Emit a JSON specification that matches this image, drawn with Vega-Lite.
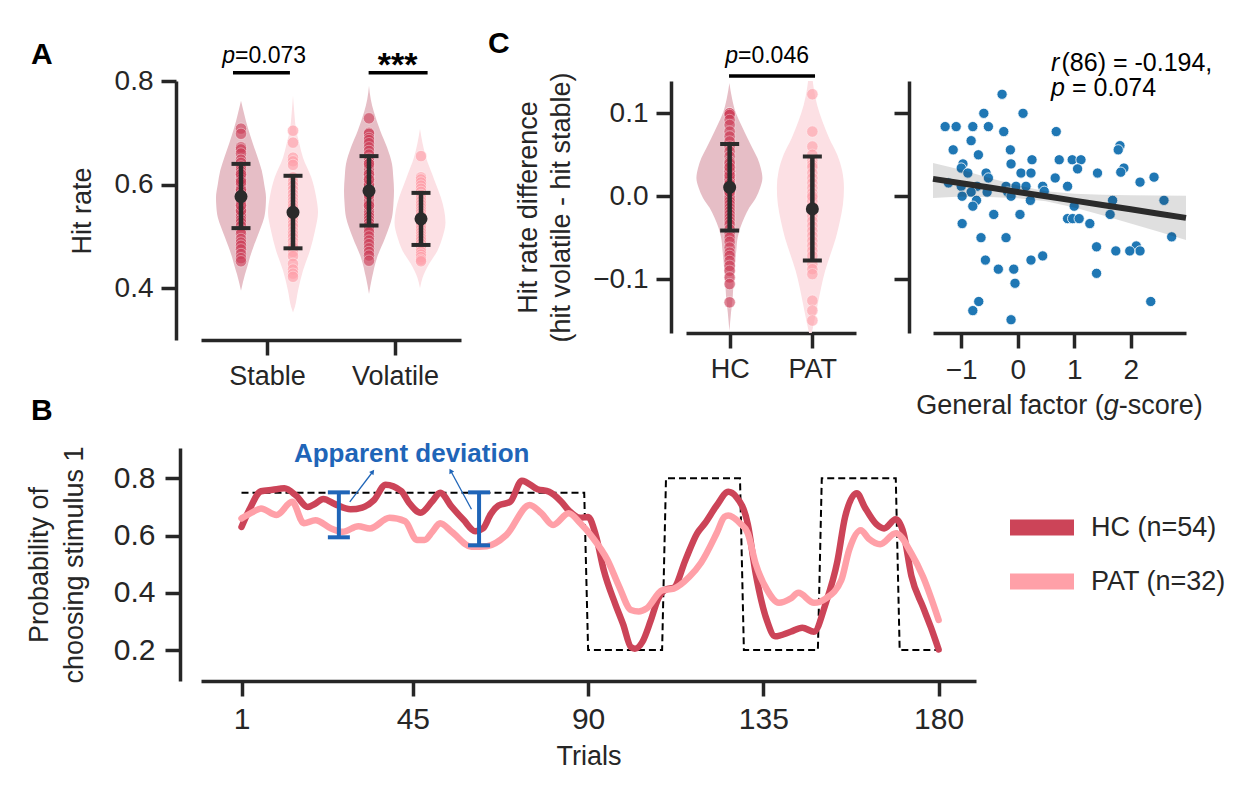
{
  "$schema": "https://vega.github.io/schema/vega-lite/v6.json",
  "background": "white",
  "padding": {"left": 25, "top": 28, "right": 0, "bottom": 0},
  "config": {
    "font": "Liberation Sans",
    "view": {"stroke": null},
    "axis": {
      "domainColor": "#262626", "domainWidth": 3.5,
      "tickColor": "#262626", "tickWidth": 3.5, "tickSize": 15,
      "labelColor": "#262626", "labelFontSize": 28, "labelPadding": 8,
      "labelFlush": false, "labelOverlap": false, "labelFont": "Liberation Sans",
      "titleColor": "#262626", "titleFontSize": 27, "titleFontWeight": "normal", "titleFont": "Liberation Sans",
      "grid": false
    },
    "text": {"font": "Liberation Sans"}
  },
  "resolve": {"scale": {"color": "independent"}, "legend": {"color": "independent"}},
  "datasets": {
    "violA": [
      {"group":"HC","cond":"Stable","v":0.395,"d":0},{"group":"HC","cond":"Stable","v":0.41,"d":0.07},{"group":"HC","cond":"Stable","v":0.427,"d":0.16},{"group":"HC","cond":"Stable","v":0.443,"d":0.26},{"group":"HC","cond":"Stable","v":0.46,"d":0.36},{"group":"HC","cond":"Stable","v":0.48,"d":0.5},{"group":"HC","cond":"Stable","v":0.498,"d":0.64},{"group":"HC","cond":"Stable","v":0.518,"d":0.8},{"group":"HC","cond":"Stable","v":0.537,"d":0.93},{"group":"HC","cond":"Stable","v":0.56,"d":0.99},{"group":"HC","cond":"Stable","v":0.575,"d":1.0},{"group":"HC","cond":"Stable","v":0.6,"d":0.93},{"group":"HC","cond":"Stable","v":0.627,"d":0.83},{"group":"HC","cond":"Stable","v":0.652,"d":0.67},{"group":"HC","cond":"Stable","v":0.68,"d":0.47},{"group":"HC","cond":"Stable","v":0.71,"d":0.27},{"group":"HC","cond":"Stable","v":0.736,"d":0.13},{"group":"HC","cond":"Stable","v":0.762,"d":0},
      {"group":"PAT","cond":"Stable","v":0.353,"d":0},{"group":"PAT","cond":"Stable","v":0.363,"d":0.07},{"group":"PAT","cond":"Stable","v":0.395,"d":0.2},{"group":"PAT","cond":"Stable","v":0.434,"d":0.4},{"group":"PAT","cond":"Stable","v":0.473,"d":0.68},{"group":"PAT","cond":"Stable","v":0.511,"d":0.88},{"group":"PAT","cond":"Stable","v":0.547,"d":1.0},{"group":"PAT","cond":"Stable","v":0.575,"d":0.93},{"group":"PAT","cond":"Stable","v":0.614,"d":0.73},{"group":"PAT","cond":"Stable","v":0.652,"d":0.4},{"group":"PAT","cond":"Stable","v":0.68,"d":0.25},{"group":"PAT","cond":"Stable","v":0.704,"d":0.13},{"group":"PAT","cond":"Stable","v":0.74,"d":0.05},{"group":"PAT","cond":"Stable","v":0.772,"d":0},
      {"group":"HC","cond":"Volatile","v":0.389,"d":0},{"group":"HC","cond":"Volatile","v":0.42,"d":0.12},{"group":"HC","cond":"Volatile","v":0.459,"d":0.32},{"group":"HC","cond":"Volatile","v":0.498,"d":0.65},{"group":"HC","cond":"Volatile","v":0.537,"d":0.92},{"group":"HC","cond":"Volatile","v":0.565,"d":0.98},{"group":"HC","cond":"Volatile","v":0.588,"d":1.0},{"group":"HC","cond":"Volatile","v":0.615,"d":0.97},{"group":"HC","cond":"Volatile","v":0.64,"d":0.92},{"group":"HC","cond":"Volatile","v":0.672,"d":0.72},{"group":"HC","cond":"Volatile","v":0.704,"d":0.45},{"group":"HC","cond":"Volatile","v":0.741,"d":0.19},{"group":"HC","cond":"Volatile","v":0.765,"d":0.07},{"group":"HC","cond":"Volatile","v":0.791,"d":0},
      {"group":"PAT","cond":"Volatile","v":0.4,"d":0},{"group":"PAT","cond":"Volatile","v":0.42,"d":0.1},{"group":"PAT","cond":"Volatile","v":0.447,"d":0.36},{"group":"PAT","cond":"Volatile","v":0.472,"d":0.68},{"group":"PAT","cond":"Volatile","v":0.498,"d":0.88},{"group":"PAT","cond":"Volatile","v":0.527,"d":1.0},{"group":"PAT","cond":"Volatile","v":0.55,"d":0.95},{"group":"PAT","cond":"Volatile","v":0.575,"d":0.82},{"group":"PAT","cond":"Volatile","v":0.6,"d":0.63},{"group":"PAT","cond":"Volatile","v":0.62,"d":0.48},{"group":"PAT","cond":"Volatile","v":0.652,"d":0.24},{"group":"PAT","cond":"Volatile","v":0.68,"d":0.1},{"group":"PAT","cond":"Volatile","v":0.708,"d":0}
    ],
    "violC": [
      {"group":"HC","v":-0.163,"d":0},{"group":"HC","v":-0.14,"d":0.05},{"group":"HC","v":-0.122,"d":0.1},{"group":"HC","v":-0.1,"d":0.13},{"group":"HC","v":-0.082,"d":0.17},{"group":"HC","v":-0.065,"d":0.21},{"group":"HC","v":-0.05,"d":0.25},{"group":"HC","v":-0.038,"d":0.33},{"group":"HC","v":-0.026,"d":0.45},{"group":"HC","v":-0.014,"d":0.6},{"group":"HC","v":-0.002,"d":0.8},{"group":"HC","v":0.01,"d":0.93},{"group":"HC","v":0.022,"d":1.0},{"group":"HC","v":0.034,"d":0.95},{"group":"HC","v":0.046,"d":0.85},{"group":"HC","v":0.058,"d":0.7},{"group":"HC","v":0.07,"d":0.55},{"group":"HC","v":0.085,"d":0.37},{"group":"HC","v":0.1,"d":0.2},{"group":"HC","v":0.118,"d":0.08},{"group":"HC","v":0.1365,"d":0},
      {"group":"PAT","v":-0.165,"d":0.04},{"group":"PAT","v":-0.15,"d":0.12},{"group":"PAT","v":-0.13,"d":0.22},{"group":"PAT","v":-0.11,"d":0.32},{"group":"PAT","v":-0.09,"d":0.44},{"group":"PAT","v":-0.07,"d":0.6},{"group":"PAT","v":-0.05,"d":0.76},{"group":"PAT","v":-0.03,"d":0.88},{"group":"PAT","v":-0.01,"d":0.97},{"group":"PAT","v":0.01,"d":1.0},{"group":"PAT","v":0.03,"d":0.95},{"group":"PAT","v":0.05,"d":0.8},{"group":"PAT","v":0.07,"d":0.56},{"group":"PAT","v":0.09,"d":0.36},{"group":"PAT","v":0.11,"d":0.2},{"group":"PAT","v":0.13,"d":0.1},{"group":"PAT","v":0.139,"d":0.07}
    ],
    "participants": [
      {"group":"HC","Stable":0.708,"Volatile":0.728,"diff":0.1},{"group":"HC","Stable":0.698,"Volatile":0.7,"diff":0.1},{"group":"HC","Stable":0.672,"Volatile":0.698,"diff":0.098},{"group":"HC","Stable":0.668,"Volatile":0.69,"diff":0.092},{"group":"HC","Stable":0.66,"Volatile":0.686,"diff":0.086},{"group":"HC","Stable":0.648,"Volatile":0.68,"diff":0.078},{"group":"HC","Stable":0.642,"Volatile":0.672,"diff":0.072},{"group":"HC","Stable":0.635,"Volatile":0.665,"diff":0.066},{"group":"HC","Stable":0.63,"Volatile":0.658,"diff":0.06},{"group":"HC","Stable":0.625,"Volatile":0.65,"diff":0.054},
      {"group":"HC","Stable":0.62,"Volatile":0.645,"diff":0.048},{"group":"HC","Stable":0.615,"Volatile":0.64,"diff":0.042},{"group":"HC","Stable":0.61,"Volatile":0.635,"diff":0.038},{"group":"HC","Stable":0.605,"Volatile":0.63,"diff":0.034},{"group":"HC","Stable":0.6,"Volatile":0.625,"diff":0.03},{"group":"HC","Stable":0.597,"Volatile":0.62,"diff":0.026},{"group":"HC","Stable":0.593,"Volatile":0.615,"diff":0.022},{"group":"HC","Stable":0.59,"Volatile":0.61,"diff":0.018},{"group":"HC","Stable":0.586,"Volatile":0.606,"diff":0.015},{"group":"HC","Stable":0.583,"Volatile":0.602,"diff":0.012},
      {"group":"HC","Stable":0.58,"Volatile":0.598,"diff":0.009},{"group":"HC","Stable":0.576,"Volatile":0.595,"diff":0.006},{"group":"HC","Stable":0.572,"Volatile":0.59,"diff":0.003},{"group":"HC","Stable":0.568,"Volatile":0.586,"diff":0.0},{"group":"HC","Stable":0.565,"Volatile":0.582,"diff":-0.003},{"group":"HC","Stable":0.56,"Volatile":0.578,"diff":-0.006},{"group":"HC","Stable":0.556,"Volatile":0.574,"diff":-0.01},{"group":"HC","Stable":0.552,"Volatile":0.57,"diff":-0.014},{"group":"HC","Stable":0.548,"Volatile":0.566,"diff":-0.018},{"group":"HC","Stable":0.543,"Volatile":0.562,"diff":-0.022},
      {"group":"HC","Stable":0.538,"Volatile":0.558,"diff":-0.026},{"group":"HC","Stable":0.532,"Volatile":0.553,"diff":-0.03},{"group":"HC","Stable":0.527,"Volatile":0.548,"diff":-0.034},{"group":"HC","Stable":0.52,"Volatile":0.543,"diff":-0.04},{"group":"HC","Stable":0.512,"Volatile":0.538,"diff":-0.045},{"group":"HC","Stable":0.505,"Volatile":0.532,"diff":-0.05},{"group":"HC","Stable":0.495,"Volatile":0.526,"diff":-0.055},{"group":"HC","Stable":0.488,"Volatile":0.52,"diff":-0.062},{"group":"HC","Stable":0.482,"Volatile":0.514,"diff":-0.068},{"group":"HC","Stable":0.475,"Volatile":0.508,"diff":-0.072},
      {"group":"HC","Stable":0.466,"Volatile":0.5,"diff":-0.078},{"group":"HC","Stable":0.458,"Volatile":0.492,"diff":-0.084},{"group":"HC","Stable":0.452,"Volatile":0.485,"diff":-0.09},{"group":"HC","Stable":0.586,"Volatile":0.477,"diff":-0.098},{"group":"HC","Stable":0.6,"Volatile":0.47,"diff":-0.106},{"group":"HC","Stable":0.61,"Volatile":0.463,"diff":-0.128},{"group":"HC","Stable":0.57,"Volatile":0.453,"diff":0.02},{"group":"HC","Stable":0.55,"Volatile":0.6,"diff":0.03},{"group":"HC","Stable":0.59,"Volatile":0.62,"diff":0.01},{"group":"HC","Stable":0.62,"Volatile":0.58,"diff":0.04},
      {"group":"HC","Stable":0.56,"Volatile":0.64,"diff":0.025},{"group":"HC","Stable":0.58,"Volatile":0.56,"diff":0.005},{"group":"HC","Stable":0.605,"Volatile":0.61,"diff":0.015},{"group":"HC","Stable":0.575,"Volatile":0.59,"diff":0.035},
      {"group":"PAT","Stable":0.704,"Volatile":0.655,"diff":0.123},{"group":"PAT","Stable":0.681,"Volatile":0.614,"diff":0.078},{"group":"PAT","Stable":0.652,"Volatile":0.61,"diff":0.06},{"group":"PAT","Stable":0.645,"Volatile":0.604,"diff":0.05},{"group":"PAT","Stable":0.638,"Volatile":0.598,"diff":0.043},{"group":"PAT","Stable":0.614,"Volatile":0.592,"diff":0.038},{"group":"PAT","Stable":0.605,"Volatile":0.586,"diff":0.035},{"group":"PAT","Stable":0.598,"Volatile":0.58,"diff":0.028},{"group":"PAT","Stable":0.59,"Volatile":0.574,"diff":0.022},{"group":"PAT","Stable":0.582,"Volatile":0.568,"diff":0.016},
      {"group":"PAT","Stable":0.575,"Volatile":0.562,"diff":0.01},{"group":"PAT","Stable":0.568,"Volatile":0.556,"diff":0.004},{"group":"PAT","Stable":0.562,"Volatile":0.55,"diff":-0.002},{"group":"PAT","Stable":0.556,"Volatile":0.545,"diff":-0.006},{"group":"PAT","Stable":0.548,"Volatile":0.54,"diff":-0.012},{"group":"PAT","Stable":0.542,"Volatile":0.535,"diff":-0.018},{"group":"PAT","Stable":0.537,"Volatile":0.53,"diff":-0.024},{"group":"PAT","Stable":0.53,"Volatile":0.525,"diff":-0.03},{"group":"PAT","Stable":0.524,"Volatile":0.52,"diff":-0.036},{"group":"PAT","Stable":0.518,"Volatile":0.514,"diff":-0.042},
      {"group":"PAT","Stable":0.51,"Volatile":0.508,"diff":-0.048},{"group":"PAT","Stable":0.504,"Volatile":0.502,"diff":-0.054},{"group":"PAT","Stable":0.498,"Volatile":0.497,"diff":-0.06},{"group":"PAT","Stable":0.49,"Volatile":0.492,"diff":-0.066},{"group":"PAT","Stable":0.483,"Volatile":0.486,"diff":-0.072},{"group":"PAT","Stable":0.479,"Volatile":0.48,"diff":-0.082},{"group":"PAT","Stable":0.47,"Volatile":0.475,"diff":-0.088},{"group":"PAT","Stable":0.462,"Volatile":0.47,"diff":-0.094},{"group":"PAT","Stable":0.447,"Volatile":0.465,"diff":-0.126},{"group":"PAT","Stable":0.436,"Volatile":0.46,"diff":-0.138},
      {"group":"PAT","Stable":0.428,"Volatile":0.455,"diff":-0.15},{"group":"PAT","Stable":0.422,"Volatile":0.452,"diff":0.0}
    ],
    "summA": [
      {"group":"HC","cond":"Stable","mean":0.577,"lo":0.516,"hi":0.64},
      {"group":"PAT","cond":"Stable","mean":0.5465,"lo":0.477,"hi":0.617},
      {"group":"HC","cond":"Volatile","mean":0.588,"lo":0.521,"hi":0.655},
      {"group":"PAT","cond":"Volatile","mean":0.534,"lo":0.4835,"hi":0.584}
    ],
    "summC": [
      {"group":"HC","mean":0.0108,"lo":-0.0414,"hi":0.063},
      {"group":"PAT","mean":-0.0153,"lo":-0.0775,"hi":0.048}
    ],
    "scatter": [
      {"g":-0.277,"diff":0.123},{"g":-0.6,"diff":0.1},{"g":0.094,"diff":0.1},{"g":-1.285,"diff":0.084},{"g":-1.09,"diff":0.084},{"g":-0.795,"diff":0.084},{"g":-0.519,"diff":0.084},{"g":-0.247,"diff":0.078},{"g":0.682,"diff":0.078},{"g":-0.825,"diff":0.067},
      {"g":-1.143,"diff":0.056},{"g":-0.13,"diff":0.056},{"g":-0.696,"diff":0.05},{"g":1.81,"diff":0.061},{"g":1.78,"diff":0.056},{"g":0.253,"diff":0.044},{"g":0.735,"diff":0.044},{"g":0.965,"diff":0.044},{"g":1.12,"diff":0.044},{"g":-0.118,"diff":0.039},
      {"g":-0.97,"diff":0.039},{"g":-1.0,"diff":0.034},{"g":1.06,"diff":0.033},{"g":1.88,"diff":0.034},{"g":1.825,"diff":0.029},{"g":0.058,"diff":0.028},{"g":0.235,"diff":0.028},{"g":1.413,"diff":0.028},{"g":-0.883,"diff":0.028},{"g":-0.56,"diff":0.028},
      {"g":-0.519,"diff":0.022},{"g":0.664,"diff":0.022},{"g":2.414,"diff":0.023},{"g":2.166,"diff":0.017},{"g":-1.226,"diff":0.016},{"g":-1.0,"diff":0.012},{"g":-0.72,"diff":0.012},{"g":-0.207,"diff":0.012},{"g":-0.03,"diff":0.012},{"g":0.147,"diff":0.012},
      {"g":0.442,"diff":0.012},{"g":0.883,"diff":0.012},{"g":-0.825,"diff":0.005},{"g":-0.542,"diff":0.005},{"g":-0.177,"diff":0.005},{"g":0.47,"diff":0.006},{"g":-0.984,"diff":0.0},{"g":-0.118,"diff":0.0},{"g":-0.73,"diff":-0.005},{"g":0.224,"diff":-0.005},
      {"g":1.68,"diff":-0.005},{"g":2.59,"diff":-0.005},{"g":-0.795,"diff":-0.012},{"g":1.0,"diff":-0.012},{"g":-0.424,"diff":-0.022},{"g":0.04,"diff":-0.022},{"g":1.636,"diff":-0.022},{"g":0.883,"diff":-0.027},{"g":0.972,"diff":-0.027},{"g":1.088,"diff":-0.027},
      {"g":-0.984,"diff":-0.033},{"g":1.277,"diff":-0.033},{"g":2.726,"diff":-0.049},{"g":-0.65,"diff":-0.05},{"g":-0.207,"diff":-0.05},{"g":1.396,"diff":-0.061},{"g":2.1,"diff":-0.06},{"g":2.166,"diff":-0.066},{"g":1.737,"diff":-0.066},{"g":1.984,"diff":-0.066},
      {"g":0.442,"diff":-0.072},{"g":0.235,"diff":-0.077},{"g":-0.572,"diff":-0.077},{"g":-0.343,"diff":-0.088},{"g":-0.07,"diff":-0.088},{"g":1.396,"diff":-0.093},{"g":-0.048,"diff":-0.105},{"g":-0.69,"diff":-0.127},{"g":2.356,"diff":-0.127},{"g":-0.795,"diff":-0.138},
      {"g":-0.118,"diff":-0.149}
    ],
    "fit": [
      {"g":-1.5,"fit":0.0209,"lo":-0.002,"hi":0.04},
      {"g":-1.0,"fit":0.0157,"lo":-0.0004,"hi":0.0318},
      {"g":-0.5,"fit":0.0105,"lo":-0.001,"hi":0.022},
      {"g":0.0,"fit":0.0052,"lo":-0.0024,"hi":0.0128},
      {"g":0.5,"fit":-0.0001,"lo":-0.0061,"hi":0.0059},
      {"g":1.0,"fit":-0.0053,"lo":-0.0135,"hi":0.003},
      {"g":1.5,"fit":-0.0106,"lo":-0.0229,"hi":0.0018},
      {"g":2.0,"fit":-0.0158,"lo":-0.0329,"hi":0.0013},
      {"g":2.5,"fit":-0.0211,"lo":-0.043,"hi":0.0009},
      {"g":2.98,"fit":-0.0261,"lo":-0.0528,"hi":0.0006}
    ],
    "trials": [
      {"trial":1,"group":"HC","p":0.63},{"trial":3,"group":"HC","p":0.69},{"trial":6,"group":"HC","p":0.755},{"trial":9,"group":"HC","p":0.76},{"trial":12,"group":"HC","p":0.765},{"trial":15,"group":"HC","p":0.74},{"trial":18,"group":"HC","p":0.7},{"trial":20,"group":"HC","p":0.712},{"trial":22,"group":"HC","p":0.728},{"trial":25,"group":"HC","p":0.71},
      {"trial":29,"group":"HC","p":0.692},{"trial":32,"group":"HC","p":0.698},{"trial":35,"group":"HC","p":0.724},{"trial":38,"group":"HC","p":0.778},{"trial":42,"group":"HC","p":0.756},{"trial":44,"group":"HC","p":0.715},{"trial":47,"group":"HC","p":0.68},{"trial":50,"group":"HC","p":0.72},{"trial":52,"group":"HC","p":0.75},{"trial":55,"group":"HC","p":0.7},
      {"trial":58,"group":"HC","p":0.655},{"trial":61,"group":"HC","p":0.615},{"trial":63,"group":"HC","p":0.625},{"trial":65,"group":"HC","p":0.675},{"trial":67,"group":"HC","p":0.705},{"trial":70,"group":"HC","p":0.718},{"trial":73,"group":"HC","p":0.792},{"trial":77,"group":"HC","p":0.762},{"trial":80,"group":"HC","p":0.753},{"trial":83,"group":"HC","p":0.72},
      {"trial":85,"group":"HC","p":0.688},{"trial":88,"group":"HC","p":0.662},{"trial":90,"group":"HC","p":0.665},{"trial":92,"group":"HC","p":0.6},{"trial":94,"group":"HC","p":0.48},{"trial":97,"group":"HC","p":0.36},{"trial":99,"group":"HC","p":0.29},{"trial":101,"group":"HC","p":0.21},{"trial":102,"group":"HC","p":0.205},{"trial":104,"group":"HC","p":0.23},
      {"trial":106,"group":"HC","p":0.3},{"trial":108,"group":"HC","p":0.38},{"trial":110,"group":"HC","p":0.412},{"trial":112,"group":"HC","p":0.418},{"trial":115,"group":"HC","p":0.515},{"trial":118,"group":"HC","p":0.608},{"trial":120,"group":"HC","p":0.643},{"trial":123,"group":"HC","p":0.705},{"trial":126,"group":"HC","p":0.753},{"trial":128,"group":"HC","p":0.736},
      {"trial":131,"group":"HC","p":0.64},{"trial":133,"group":"HC","p":0.47},{"trial":136,"group":"HC","p":0.3},{"trial":138,"group":"HC","p":0.248},{"trial":142,"group":"HC","p":0.264},{"trial":145,"group":"HC","p":0.278},{"trial":148,"group":"HC","p":0.264},{"trial":151,"group":"HC","p":0.363},{"trial":154,"group":"HC","p":0.51},{"trial":156,"group":"HC","p":0.666},
      {"trial":159,"group":"HC","p":0.748},{"trial":161,"group":"HC","p":0.7},{"trial":164,"group":"HC","p":0.64},{"trial":166,"group":"HC","p":0.625},{"trial":169,"group":"HC","p":0.657},{"trial":171,"group":"HC","p":0.608},{"trial":173,"group":"HC","p":0.46},{"trial":176,"group":"HC","p":0.35},{"trial":178,"group":"HC","p":0.28},{"trial":180,"group":"HC","p":0.202},
      {"trial":1,"group":"PAT","p":0.66},{"trial":4,"group":"PAT","p":0.683},{"trial":6,"group":"PAT","p":0.695},{"trial":10,"group":"PAT","p":0.672},{"trial":14,"group":"PAT","p":0.718},{"trial":17,"group":"PAT","p":0.643},{"trial":20,"group":"PAT","p":0.654},{"trial":24,"group":"PAT","p":0.625},{"trial":27,"group":"PAT","p":0.613},{"trial":31,"group":"PAT","p":0.633},
      {"trial":34,"group":"PAT","p":0.625},{"trial":39,"group":"PAT","p":0.662},{"trial":43,"group":"PAT","p":0.65},{"trial":46,"group":"PAT","p":0.585},{"trial":48,"group":"PAT","p":0.585},{"trial":50,"group":"PAT","p":0.613},{"trial":52,"group":"PAT","p":0.643},{"trial":55,"group":"PAT","p":0.613},{"trial":60,"group":"PAT","p":0.561},{"trial":64,"group":"PAT","p":0.563},
      {"trial":69,"group":"PAT","p":0.602},{"trial":75,"group":"PAT","p":0.707},{"trial":78,"group":"PAT","p":0.678},{"trial":81,"group":"PAT","p":0.637},{"trial":85,"group":"PAT","p":0.678},{"trial":88,"group":"PAT","p":0.643},{"trial":91,"group":"PAT","p":0.596},{"trial":95,"group":"PAT","p":0.514},{"trial":98,"group":"PAT","p":0.421},{"trial":101,"group":"PAT","p":0.34},
      {"trial":103,"group":"PAT","p":0.335},{"trial":105,"group":"PAT","p":0.345},{"trial":109,"group":"PAT","p":0.409},{"trial":112,"group":"PAT","p":0.415},{"trial":116,"group":"PAT","p":0.456},{"trial":119,"group":"PAT","p":0.505},{"trial":123,"group":"PAT","p":0.608},{"trial":125,"group":"PAT","p":0.665},{"trial":126,"group":"PAT","p":0.67},{"trial":129,"group":"PAT","p":0.643},
      {"trial":131,"group":"PAT","p":0.608},{"trial":133,"group":"PAT","p":0.503},{"trial":136,"group":"PAT","p":0.409},{"trial":139,"group":"PAT","p":0.365},{"trial":142,"group":"PAT","p":0.38},{"trial":144,"group":"PAT","p":0.4},{"trial":148,"group":"PAT","p":0.365},{"trial":151,"group":"PAT","p":0.38},{"trial":155,"group":"PAT","p":0.444},{"trial":157,"group":"PAT","p":0.549},
      {"trial":160,"group":"PAT","p":0.619},{"trial":162,"group":"PAT","p":0.59},{"trial":165,"group":"PAT","p":0.57},{"trial":169,"group":"PAT","p":0.608},{"trial":173,"group":"PAT","p":0.538},{"trial":176,"group":"PAT","p":0.456},{"trial":180,"group":"PAT","p":0.305}
    ],
    "truth": [
      {"trial":1,"p":0.75},{"trial":89,"p":0.75},{"trial":90,"p":0.2},{"trial":109,"p":0.2},{"trial":110,"p":0.8},{"trial":129,"p":0.8},{"trial":130,"p":0.2},{"trial":149,"p":0.2},{"trial":150,"p":0.8},{"trial":169,"p":0.8},{"trial":170,"p":0.2},{"trial":180,"p":0.2}
    ],
    "devs": [
      {"trial":26,"lo":0.594,"hi":0.751},
      {"trial":62,"lo":0.566,"hi":0.751}
    ]
  },
  "spacing": 13,
  "vconcat": [
    {
      "bounds": "flush",
      "spacing": 225,
      "hconcat": [
        {
          "width": 260, "height": 259,
          "resolve": {"scale": {"x": "independent"}},
          "layer": [
            {"data": {"name": "violA"}, "transform": [{"filter": "datum.group === 'HC' && datum.cond === 'Stable'"}],
             "mark": {"type": "area", "orient": "horizontal", "interpolate": "monotone", "color": "#e6bec6", "opacity": 1},
             "encoding": {"y": {"field": "v", "type": "quantitative", "scale": {"domain": [0.3, 0.8], "nice": false, "zero": false}},
                          "x": {"field": "d", "type": "quantitative", "stack": "center", "scale": {"domain": [-0.3, 4.9], "nice": false, "zero": false}, "axis": null}}},
            {"data": {"name": "violA"}, "transform": [{"filter": "datum.group === 'PAT' && datum.cond === 'Stable'"}],
             "mark": {"type": "area", "orient": "horizontal", "interpolate": "monotone", "color": "#fce0e4", "opacity": 1},
             "encoding": {"y": {"field": "v", "type": "quantitative", "scale": {"domain": [0.3, 0.8], "nice": false, "zero": false}},
                          "x": {"field": "d", "type": "quantitative", "stack": "center", "scale": {"domain": [-1.34, 3.86], "nice": false, "zero": false}, "axis": null}}},
            {"data": {"name": "violA"}, "transform": [{"filter": "datum.group === 'HC' && datum.cond === 'Volatile'"}],
             "mark": {"type": "area", "orient": "horizontal", "interpolate": "monotone", "color": "#e6bec6", "opacity": 1},
             "encoding": {"y": {"field": "v", "type": "quantitative", "scale": {"domain": [0.3, 0.8], "nice": false, "zero": false}},
                          "x": {"field": "d", "type": "quantitative", "stack": "center", "scale": {"domain": [-2.86, 2.34], "nice": false, "zero": false}, "axis": null}}},
            {"data": {"name": "violA"}, "transform": [{"filter": "datum.group === 'PAT' && datum.cond === 'Volatile'"}],
             "mark": {"type": "area", "orient": "horizontal", "interpolate": "monotone", "color": "#fce0e4", "opacity": 1},
             "encoding": {"y": {"field": "v", "type": "quantitative", "scale": {"domain": [0.3, 0.8], "nice": false, "zero": false}},
                          "x": {"field": "d", "type": "quantitative", "stack": "center", "scale": {"domain": [-3.794, 1.304], "nice": false, "zero": false}, "axis": null}}},
            {
              "encoding": {"x": {"field": "cond", "type": "nominal", "scale": {"type": "point", "domain": ["Stable", "Volatile"], "padding": 0.5156, "align": 0.303}, "axis": null}},
              "layer": [
                {"data": {"name": "participants"}, "transform": [{"filter": "datum.group === 'HC'"}, {"fold": ["Stable", "Volatile"], "as": ["cond", "hit"]}],
                 "mark": {"type": "circle", "size": 130, "color": "#cd3d57", "opacity": 0.6, "stroke": "#ffffff", "strokeWidth": 0.6},
                 "encoding": {"y": {"field": "hit", "type": "quantitative", "scale": {"domain": [0.3, 0.8], "nice": false, "zero": false}}}},
                {"data": {"name": "summA"}, "transform": [{"filter": "datum.group === 'HC'"}],
                 "mark": {"type": "rule", "color": "#2b2b2b", "strokeWidth": 4.5},
                 "encoding": {"y": {"field": "lo", "type": "quantitative", "scale": {"domain": [0.3, 0.8], "nice": false, "zero": false}}, "y2": {"field": "hi"}}},
                {"data": {"name": "summA"}, "transform": [{"filter": "datum.group === 'HC'"}],
                 "mark": {"type": "tick", "orient": "horizontal", "color": "#2b2b2b", "thickness": 4, "size": 19, "opacity": 1},
                 "encoding": {"y": {"field": "lo", "type": "quantitative", "scale": {"domain": [0.3, 0.8], "nice": false, "zero": false}}}},
                {"data": {"name": "summA"}, "transform": [{"filter": "datum.group === 'HC'"}],
                 "mark": {"type": "tick", "orient": "horizontal", "color": "#2b2b2b", "thickness": 4, "size": 19, "opacity": 1},
                 "encoding": {"y": {"field": "hi", "type": "quantitative", "scale": {"domain": [0.3, 0.8], "nice": false, "zero": false}}}},
                {"data": {"name": "summA"}, "transform": [{"filter": "datum.group === 'HC'"}],
                 "mark": {"type": "circle", "size": 170, "color": "#2b2b2b", "opacity": 1},
                 "encoding": {"y": {"field": "mean", "type": "quantitative", "scale": {"domain": [0.3, 0.8], "nice": false, "zero": false}}}}
              ]
            },
            {
              "encoding": {"x": {"field": "cond", "type": "nominal", "scale": {"type": "point", "domain": ["Stable", "Volatile"], "padding": 0.5156, "align": 0.697}, "axis": null}},
              "layer": [
                {"data": {"name": "participants"}, "transform": [{"filter": "datum.group === 'PAT'"}, {"fold": ["Stable", "Volatile"], "as": ["cond", "hit"]}],
                 "mark": {"type": "circle", "size": 130, "color": "#ffa0aa", "opacity": 0.65, "stroke": "#ffffff", "strokeWidth": 0.6},
                 "encoding": {"y": {"field": "hit", "type": "quantitative", "scale": {"domain": [0.3, 0.8], "nice": false, "zero": false}}}},
                {"data": {"name": "summA"}, "transform": [{"filter": "datum.group === 'PAT'"}],
                 "mark": {"type": "rule", "color": "#2b2b2b", "strokeWidth": 4.5},
                 "encoding": {"y": {"field": "lo", "type": "quantitative", "scale": {"domain": [0.3, 0.8], "nice": false, "zero": false}}, "y2": {"field": "hi"}}},
                {"data": {"name": "summA"}, "transform": [{"filter": "datum.group === 'PAT'"}],
                 "mark": {"type": "tick", "orient": "horizontal", "color": "#2b2b2b", "thickness": 4, "size": 19, "opacity": 1},
                 "encoding": {"y": {"field": "lo", "type": "quantitative", "scale": {"domain": [0.3, 0.8], "nice": false, "zero": false}}}},
                {"data": {"name": "summA"}, "transform": [{"filter": "datum.group === 'PAT'"}],
                 "mark": {"type": "tick", "orient": "horizontal", "color": "#2b2b2b", "thickness": 4, "size": 19, "opacity": 1},
                 "encoding": {"y": {"field": "hi", "type": "quantitative", "scale": {"domain": [0.3, 0.8], "nice": false, "zero": false}}}},
                {"data": {"name": "summA"}, "transform": [{"filter": "datum.group === 'PAT'"}],
                 "mark": {"type": "circle", "size": 170, "color": "#2b2b2b", "opacity": 1},
                 "encoding": {"y": {"field": "mean", "type": "quantitative", "scale": {"domain": [0.3, 0.8], "nice": false, "zero": false}}}}
              ]
            },
            {
              "encoding": {
                "x": {"field": "x", "type": "quantitative", "scale": {"domain": [-0.516, 1.516], "nice": false, "zero": false},
                      "axis": {"orient": "bottom", "values": [0, 1], "labelExpr": "datum.value === 0 ? 'Stable' : 'Volatile'", "title": null, "labelFontSize": 27}},
                "y": {"field": "y", "type": "quantitative", "scale": {"domain": [0.3, 0.8], "nice": false, "zero": false},
                      "axis": {"orient": "left", "values": [0.4, 0.6, 0.8], "format": ".1f", "title": "Hit rate", "offset": 25, "titlePadding": 18}}
              },
              "layer": [
                {"data": {"values": [{"x": -0.266, "x2": 0.179, "y": 0.816}, {"x": 0.794, "x2": 1.255, "y": 0.816}]},
                 "mark": {"type": "rule", "color": "#000000", "strokeWidth": 3.5}, "encoding": {"x2": {"field": "x2"}}},
                {"data": {"values": [{"x": -0.25, "y": 0.8354, "t": "p"}]},
                 "mark": {"type": "text", "align": "right", "baseline": "alphabetic", "fontSize": 23, "fontStyle": "italic", "color": "#000000"}, "encoding": {"text": {"field": "t"}}},
                {"data": {"values": [{"x": -0.25, "y": 0.8354, "t": "=0.073"}]},
                 "mark": {"type": "text", "align": "left", "baseline": "alphabetic", "fontSize": 23, "color": "#000000"}, "encoding": {"text": {"field": "t"}}},
                {"data": {"values": [{"x": 1.021, "y": 0.8106, "t": "***"}]},
                 "mark": {"type": "text", "align": "center", "baseline": "alphabetic", "fontSize": 34, "fontWeight": "bold", "color": "#000000"}, "encoding": {"text": {"field": "t"}}},
                {"data": {"values": [{"x": -1.844, "y": 0.8323, "t": "A"}, {"x": -1.844, "y": 0.1454, "t": "B"}]},
                 "mark": {"type": "text", "align": "left", "baseline": "alphabetic", "fontSize": 30, "fontWeight": "bold", "color": "#000000"}, "encoding": {"text": {"field": "t"}}}
              ]
            }
          ]
        },
        {
          "width": 500, "height": 252,
          "resolve": {"scale": {"x": "independent", "y": "independent"}},
          "layer": [
            {"data": {"name": "violC"}, "transform": [{"filter": "datum.group === 'HC'"}],
             "mark": {"type": "area", "orient": "horizontal", "interpolate": "monotone", "color": "#e6bec6", "opacity": 1},
             "encoding": {"y": {"field": "v", "type": "quantitative", "scale": {"domain": [-0.165, 0.139], "nice": false, "zero": false}, "axis": null},
                          "x": {"field": "d", "type": "quantitative", "stack": "center", "scale": {"domain": [-0.1576, 7.4182], "nice": false, "zero": false}, "axis": null}}},
            {"data": {"name": "violC"}, "transform": [{"filter": "datum.group === 'PAT'"}],
             "mark": {"type": "area", "orient": "horizontal", "interpolate": "monotone", "color": "#fce0e4", "opacity": 1},
             "encoding": {"y": {"field": "v", "type": "quantitative", "scale": {"domain": [-0.165, 0.139], "nice": false, "zero": false}, "axis": null},
                          "x": {"field": "d", "type": "quantitative", "stack": "center", "scale": {"domain": [-1.3544, 6.0985], "nice": false, "zero": false}, "axis": null}}},
            {
              "encoding": {"x": {"field": "group", "type": "nominal", "scale": {"type": "point", "domain": ["HC", "PAT"], "range": [0, 170], "padding": 0.5278},
                                 "axis": {"orient": "bottom", "title": null, "labelFontSize": 27, "labelAngle": 0}}},
              "layer": [
                {"data": {"name": "participants"},
                 "mark": {"type": "circle", "size": 130, "opacity": 0.62, "stroke": "#ffffff", "strokeWidth": 0.6},
                 "encoding": {"y": {"field": "diff", "type": "quantitative", "scale": {"domain": [-0.165, 0.139], "nice": false, "zero": false},
                                    "axis": {"orient": "left", "values": [-0.1, 0, 0.1], "format": ".1f", "offset": 15, "title": ["Hit rate difference", "(hit volatile - hit stable)"], "titleLineHeight": 33, "titlePadding": 17}},
                              "color": {"field": "group", "type": "nominal", "scale": {"domain": ["HC", "PAT"], "range": ["#cd3d57", "#ffa0aa"]}, "legend": null}}},
                {"data": {"name": "summC"},
                 "mark": {"type": "rule", "color": "#2b2b2b", "strokeWidth": 4.5},
                 "encoding": {"y": {"field": "lo", "type": "quantitative", "scale": {"domain": [-0.165, 0.139], "nice": false, "zero": false}}, "y2": {"field": "hi"}}},
                {"data": {"name": "summC"},
                 "mark": {"type": "tick", "orient": "horizontal", "color": "#2b2b2b", "thickness": 4, "size": 19, "opacity": 1},
                 "encoding": {"y": {"field": "lo", "type": "quantitative", "scale": {"domain": [-0.165, 0.139], "nice": false, "zero": false}}}},
                {"data": {"name": "summC"},
                 "mark": {"type": "tick", "orient": "horizontal", "color": "#2b2b2b", "thickness": 4, "size": 19, "opacity": 1},
                 "encoding": {"y": {"field": "hi", "type": "quantitative", "scale": {"domain": [-0.165, 0.139], "nice": false, "zero": false}}}},
                {"data": {"name": "summC"},
                 "mark": {"type": "circle", "size": 170, "color": "#2b2b2b", "opacity": 1},
                 "encoding": {"y": {"field": "mean", "type": "quantitative", "scale": {"domain": [-0.165, 0.139], "nice": false, "zero": false}}}}
              ]
            },
            {
              "encoding": {
                "x": {"field": "x", "type": "quantitative", "scale": {"domain": [-0.524, 1.53], "range": [0, 170], "nice": false, "zero": false}, "axis": null},
                "y": {"field": "y", "type": "quantitative", "scale": {"domain": [-0.165, 0.139], "nice": false, "zero": false}, "axis": null}
              },
              "layer": [
                {"data": {"values": [{"x": -0.004, "x2": 1.035, "y": 0.145}]},
                 "mark": {"type": "rule", "color": "#000000", "strokeWidth": 3.5}, "encoding": {"x2": {"field": "x2"}}},
                {"data": {"values": [{"x": 0.104, "y": 0.1603, "t": "p"}]},
                 "mark": {"type": "text", "align": "right", "baseline": "alphabetic", "fontSize": 23, "fontStyle": "italic", "color": "#000000"}, "encoding": {"text": {"field": "t"}}},
                {"data": {"values": [{"x": 0.104, "y": 0.1603, "t": "=0.046"}]},
                 "mark": {"type": "text", "align": "left", "baseline": "alphabetic", "fontSize": 23, "color": "#000000"}, "encoding": {"text": {"field": "t"}}},
                {"data": {"values": [{"x": -2.916, "y": 0.1728, "t": "C"}]},
                 "mark": {"type": "text", "align": "left", "baseline": "alphabetic", "fontSize": 30, "fontWeight": "bold", "color": "#000000"}, "encoding": {"text": {"field": "t"}}}
              ]
            },
            {
              "encoding": {
                "x": {"field": "g", "type": "quantitative", "scale": {"domain": [-1.5, 2.98], "range": [247, 500], "nice": false, "zero": false},
                      "axis": {"orient": "bottom", "values": [-1, 0, 1, 2], "format": "d", "title": null}},
                "y": {"field": "diff", "type": "quantitative", "scale": {"domain": [-0.165, 0.139], "nice": false, "zero": false},
                      "axis": {"orient": "left", "values": [-0.1, 0, 0.1], "labels": false, "title": null, "offset": -223}}
              },
              "layer": [
                {"data": {"name": "scatter"},
                 "mark": {"type": "circle", "size": 105, "color": "#1f77b4", "opacity": 1, "stroke": "#ffffff", "strokeWidth": 0.8}},
                {"data": {"name": "fit"},
                 "mark": {"type": "area", "color": "#2b2b2b", "opacity": 0.15},
                 "encoding": {"y": {"field": "lo", "type": "quantitative", "scale": {"domain": [-0.165, 0.139], "nice": false, "zero": false}}, "y2": {"field": "hi"}}},
                {"data": {"name": "fit"},
                 "mark": {"type": "line", "color": "#2b2b2b", "strokeWidth": 6},
                 "encoding": {"y": {"field": "fit", "type": "quantitative", "scale": {"domain": [-0.165, 0.139], "nice": false, "zero": false}}}},
                {"data": {"values": [{"g": 0.59, "diff": 0.151, "t": "r"}, {"g": 0.59, "diff": 0.1209, "t": "p"}]},
                 "mark": {"type": "text", "align": "left", "baseline": "alphabetic", "fontSize": 25, "fontStyle": "italic", "color": "#000000"},
                 "encoding": {"text": {"field": "t"}}},
                {"data": {"values": [{"g": 0.59, "diff": 0.151, "t": "(86) = -0.194,"}]},
                 "mark": {"type": "text", "align": "left", "baseline": "alphabetic", "fontSize": 25, "dx": 10.5, "color": "#000000"},
                 "encoding": {"text": {"field": "t"}}},
                {"data": {"values": [{"g": 0.59, "diff": 0.1209, "t": "= 0.074"}]},
                 "mark": {"type": "text", "align": "left", "baseline": "alphabetic", "fontSize": 25, "dx": 21, "color": "#000000"},
                 "encoding": {"text": {"field": "t"}}},
                {"data": {"values": [{"g": -1.7975, "diff": -0.2627, "t": "General factor ("}]},
                 "mark": {"type": "text", "align": "left", "baseline": "alphabetic", "fontSize": 27, "color": "#262626"},
                 "encoding": {"text": {"field": "t"}}},
                {"data": {"values": [{"g": -1.7975, "diff": -0.2627, "t": "g"}]},
                 "mark": {"type": "text", "align": "left", "baseline": "alphabetic", "fontSize": 27, "fontStyle": "italic", "dx": 187.6, "color": "#262626"},
                 "encoding": {"text": {"field": "t"}}},
                {"data": {"values": [{"g": -1.7975, "diff": -0.2627, "t": "-score)"}]},
                 "mark": {"type": "text", "align": "left", "baseline": "alphabetic", "fontSize": 27, "dx": 202.6, "color": "#262626"},
                 "encoding": {"text": {"field": "t"}}}
              ]
            }
          ]
        }
      ]
    },
    {
      "width": 775, "height": 233,
      "encoding": {
        "x": {"field": "trial", "type": "quantitative", "scale": {"domain": [-9.4, 189.6], "nice": false, "zero": false},
              "axis": {"orient": "bottom", "values": [1, 45, 90, 135, 180], "title": "Trials", "titlePadding": 9, "labelFontSize": 30}},
        "y": {"field": "p", "type": "quantitative", "scale": {"domain": [0.092, 0.906], "nice": false, "zero": false},
              "axis": {"orient": "left", "values": [0.2, 0.4, 0.6, 0.8], "format": ".1f", "offset": 21, "labelFontSize": 30, "labelPadding": 10, "title": ["Probability of", "choosing stimulus 1"], "titleLineHeight": 35, "titlePadding": 25}}
      },
      "layer": [
        {"data": {"name": "truth"},
         "mark": {"type": "line", "color": "#000000", "strokeWidth": 2, "strokeDash": [7, 4]}},
        {"data": {"name": "trials"},
         "mark": {"type": "line", "strokeWidth": 6.5, "interpolate": "monotone", "strokeCap": "round", "strokeJoin": "round"},
         "encoding": {"color": {"field": "group", "type": "nominal", "scale": {"domain": ["HC", "PAT"], "range": ["#cc4458", "#ffa0a8"]},
                                "legend": {"orient": "none", "legendX": 809, "legendY": 66, "title": null, "padding": 0,
                                           "symbolType": "M-4,0H4", "symbolSize": 256, "symbolStrokeWidth": 16, "clipHeight": 27, "symbolOffset": 16,
                                           "labelFontSize": 27, "labelColor": "#262626", "labelOffset": 33, "rowPadding": 26,
                                           "labelExpr": "datum.label === 'HC' ? 'HC (n=54)' : 'PAT (n=32)'"}}}},
        {"data": {"name": "devs"},
         "mark": {"type": "rule", "color": "#1f65b8", "strokeWidth": 4},
         "encoding": {"y": {"field": "lo", "type": "quantitative"}, "y2": {"field": "hi"}}},
        {"data": {"name": "devs"},
         "mark": {"type": "tick", "orient": "horizontal", "color": "#1f65b8", "thickness": 4, "size": 22, "opacity": 1},
         "encoding": {"y": {"field": "lo", "type": "quantitative"}}},
        {"data": {"name": "devs"},
         "mark": {"type": "tick", "orient": "horizontal", "color": "#1f65b8", "thickness": 4, "size": 22, "opacity": 1},
         "encoding": {"y": {"field": "hi", "type": "quantitative"}}},
        {"data": {"values": [{"trial": 28.8, "p": 0.718, "trial2": 34.7, "p2": 0.823}, {"trial": 60.05, "p": 0.692, "trial2": 54.7, "p2": 0.8266}]},
         "mark": {"type": "rule", "color": "#1f65b8", "strokeWidth": 1.3},
         "encoding": {"x2": {"field": "trial2"}, "y2": {"field": "p2"}}},
        {"data": {"values": [{"trial": 34.7, "p": 0.823}]},
         "mark": {"type": "point", "shape": "triangle-up", "filled": true, "color": "#1f65b8", "size": 30, "angle": 37, "opacity": 1}},
        {"data": {"values": [{"trial": 54.7, "p": 0.8266}]},
         "mark": {"type": "point", "shape": "triangle-up", "filled": true, "color": "#1f65b8", "size": 30, "angle": -29, "opacity": 1}},
        {"data": {"values": [{"trial": 44.7, "p": 0.858, "t": "Apparent deviation"}]},
         "mark": {"type": "text", "align": "center", "baseline": "alphabetic", "fontSize": 26, "fontWeight": "bold", "color": "#1f65b8"},
         "encoding": {"text": {"field": "t"}}}
      ]
    }
  ]
}
